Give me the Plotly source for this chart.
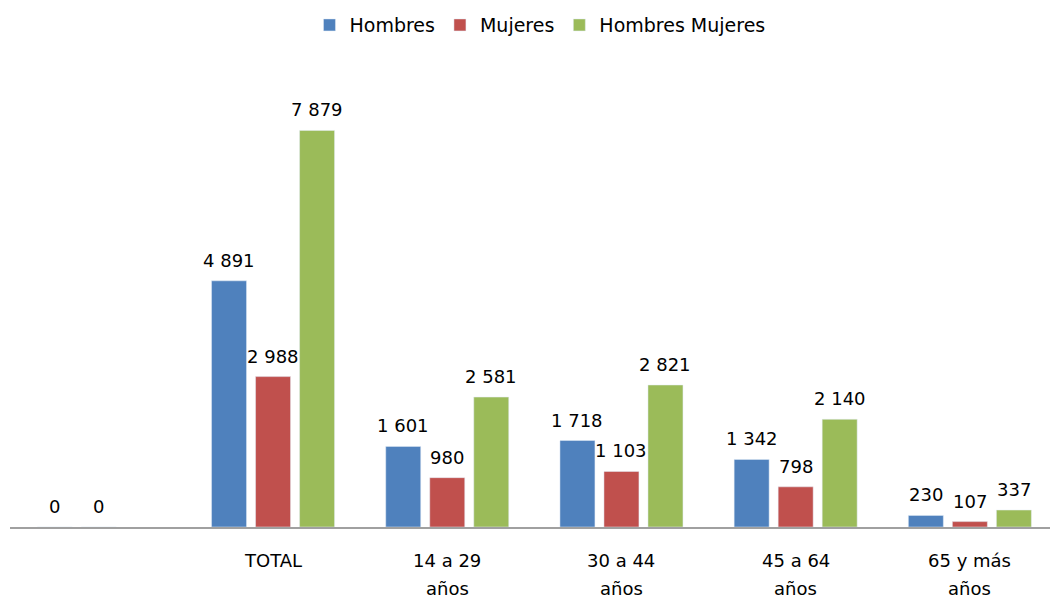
import plotly.graph_objects as go

categories = [" ", "TOTAL", "14 a 29 años", "30 a 44 años", "45 a 64 años", "65 y más años"]
label_line1 = ["", "TOTAL", "14 a 29", "30 a 44", "45 a 64", "65 y más"]
label_line2 = ["", "", "años", "años", "años", "años"]
hombres = [0, 4891, 1601, 1718, 1342, 230]
mujeres = [0, 2988, 980, 1103, 798, 107]
hombres_mujeres = [None, 7879, 2581, 2821, 2140, 337]

series = [
    ("Hombres", hombres, "#4F81BD", -44),
    ("Mujeres", mujeres, "#C0504D", 0),
    ("Hombres Mujeres", hombres_mujeres, "#9BBB59", 44),
]

font_family = "'DejaVu Sans', sans-serif"

fig = go.Figure()
annotations = []
for name, vals, color, dx in series:
    fig.add_trace(go.Bar(
        name=name, x=categories, y=vals, marker_color=color,
        hoverinfo="x+y",
    ))
    for i, v in enumerate(vals):
        if v is None:
            continue
        annotations.append(dict(
            x=i, y=v, xref="x", yref="y", text=f"{v:,}".replace(",", " "),
            showarrow=False, xshift=dx, yshift=8, yanchor="bottom",
            font=dict(size=18, color="#000000", family=font_family),
        ))

for i, (l1, l2) in enumerate(zip(label_line1, label_line2)):
    if l1:
        annotations.append(dict(x=i, y=0, xref="x", yref="paper", text=l1,
                                showarrow=False, yanchor="middle", yshift=-33,
                                font=dict(size=18, color="#000000", family=font_family)))
    if l2:
        annotations.append(dict(x=i, y=0, xref="x", yref="paper", text=l2,
                                showarrow=False, yanchor="middle", yshift=-61,
                                font=dict(size=18, color="#000000", family=font_family)))

fig.update_layout(
    barmode="group", bargap=0.242, bargroupgap=0.205,
    width=1050, height=598,
    margin=dict(l=10, r=0, t=74, b=71),
    paper_bgcolor="white", plot_bgcolor="white",
    font=dict(family=font_family, size=18, color="#000000"),
    showlegend=True,
    legend=dict(orientation="h", x=0.5096, xanchor="center", y=1.108, yanchor="middle",
                font=dict(size=19), traceorder="normal"),
    xaxis=dict(showline=True, linecolor="#A0A0A0", linewidth=2, ticks="",
               showticklabels=False, showgrid=False, range=[-0.51, 5.46]),
    yaxis=dict(range=[0, 9000], visible=False, showgrid=False, zeroline=False),
    annotations=annotations,
)

fig.write_html("out.html", config={"displayModeBar": False},
               post_script="document.body.style.margin='0';")
